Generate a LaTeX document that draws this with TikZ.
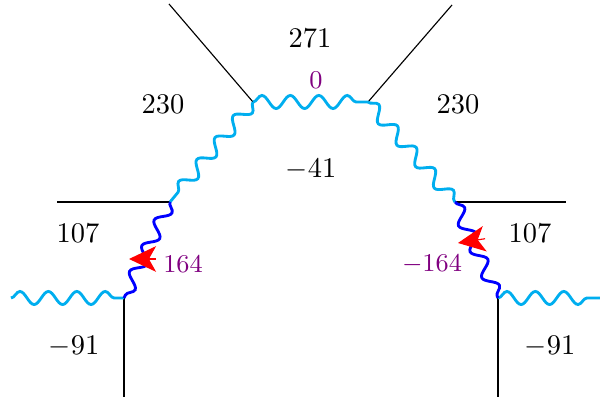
\documentclass[tikz,border=0pt]{standalone}
\usepackage{amsmath}
\usepackage{tikz}
\usetikzlibrary{decorations.pathmorphing}
\usetikzlibrary{arrows.meta}
\definecolor{wavecyan}{RGB}{0,174,239}
\newcommand{\wavelen}{10pt}
\tikzset{wavy/.style={decorate, decoration={snake, amplitude=2.3pt, segment length=\wavelen}, line width=1pt},
  cyanwave/.style={wavy, wavecyan},
  bluewave/.style={wavy, blue},
  legline/.style={thin, black},
  phase/.style={font=\small, text=violet},
  redtip/.style={red, -{Stealth[length=9.5pt, width=9pt, inset=2.5pt]}}}

\begin{document}
\begin{tikzpicture}[x=0.1235mm, y=-0.1235mm]
\useasboundingbox (0,0) rectangle (600,402);

% vertices
\coordinate (v1) at (253,102);
\coordinate (v2) at (368,102);
\coordinate (v3) at (170,202);
\coordinate (v4) at (455,202);
\coordinate (v5) at (124,298);
\coordinate (v6) at (498,298);

% free ends
\coordinate (e1) at (169,4);
\coordinate (e2) at (452,5);
\coordinate (e3) at (57,202);
\coordinate (e4) at (566,202);
\coordinate (e5) at (11,298);
\coordinate (e6) at (600,298);
\coordinate (e7) at (124,397);
\coordinate (e8) at (498,397);

\draw[legline] (e1) -- (v1);
\draw[legline] (v2) -- (e2);
\draw[legline] (e3) -- (v3);
\draw[legline] (v4) -- (e4);
\draw[legline] (v5) -- (e7);
\draw[legline] (v6) -- (e8);

\draw[cyanwave] (v1) -- (v2);
\draw[cyanwave] (v1) -- (v3);
\draw[cyanwave] (v2) -- (v4);
\draw[cyanwave] (e5) -- (v5);
\draw[cyanwave] (v6) -- (e6);
\draw[bluewave] (v3) -- (v5);
\draw[bluewave] (v4) -- (v6);

% arrow heads
\coordinate (t1) at (129,259);
\coordinate (t2) at (458,243);
\draw[redtip] ([xshift=9.5pt]t1) -- (t1);
\draw[redtip] ([xshift=9.5pt,yshift=1.5pt]t2) -- (t2);

% region values
\node (r1) at (310,38) {$271$};
\node (r2) at (163,104) {$230$};
\node (r3) at (458,104) {$230$};
\node (r4) at (311,170) {$-41$};
\node (r5) at (78,233) {$107$};
\node (r6) at (530,233) {$107$};
\node (r7) at (74,347) {$-91$};
\node (r8) at (550,347) {$-91$};

% phases
\node[phase] (p1) at (316,80) {$0$};
\node[phase] (p2) at (183,264) {$164$};
\node[phase] (p3) at (432,264) {$-164$};

\end{tikzpicture}
\end{document}
